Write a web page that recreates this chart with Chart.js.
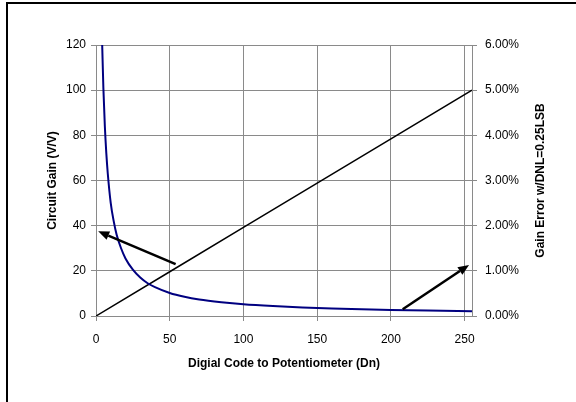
<!DOCTYPE html>
<html>
<head>
<meta charset="utf-8">
<script src="https://cdn.jsdelivr.net/npm/chart.js@4"></script>
<style>
  html, body { margin: 0; padding: 0; background: #fff; overflow: hidden; }
  .wrap { position: relative; width: 576px; height: 402px; }
  .frame {
    position: absolute; left: 6px; top: 2px; width: 600px; height: 420px;
    border-left: 2px solid #000; border-top: 2px solid #000; pointer-events: none;
  }
  canvas { position: absolute; left: 0; top: 0; }
</style>
</head>
<body>
<div class="wrap">
  <canvas id="chart" width="576" height="402"></canvas>
  <div class="frame"></div>
</div>
<script>
// Circuit gain vs. digital code (left axis)
const gainCodes  = [4.2, 5, 6, 7, 8, 10, 12, 14, 17, 20, 25, 30, 35, 40, 50, 60, 70, 85, 100, 120, 140, 160, 180, 200, 225, 255];
const gainValues = [120, 101, 84, 72, 63, 50, 42, 36, 30, 25.5, 20.5, 17, 14.5, 12.8, 10.2, 8.5, 7.3, 6.1, 5.2, 4.4, 3.8, 3.3, 3.0, 2.7, 2.4, 2.15];

// Gain error (right axis, percent)
const errorCodes  = [0, 50, 100, 150, 200, 255];
const errorValues = [0, 0.98, 1.96, 2.94, 3.92, 5.0];

// Annotation arrows: [tailCode, tailGain, headCode, headGain]
const arrows = [
  [54, 23, 1.5, 37.5],
  [208, 3, 253, 22.6],
];

const xTicks = [0, 50, 100, 150, 200, 250];

const font = "'Liberation Sans', Arial, sans-serif";
const grid = '#8a8a8a';

Chart.defaults.font.family = font;
Chart.defaults.color = '#000';

const arrowPlugin = {
  id: 'arrows',
  afterDatasetsDraw(chart) {
    const { ctx, scales: { x, y } } = chart;
    ctx.save();
    ctx.strokeStyle = '#000';
    ctx.fillStyle = '#000';
    ctx.lineWidth = 2.5;
    arrows.forEach(([x0, y0, x1, y1]) => {
      const ax = x.getPixelForValue(x0), ay = y.getPixelForValue(y0);
      const bx = x.getPixelForValue(x1), by = y.getPixelForValue(y1);
      const ang = Math.atan2(by - ay, bx - ax);
      const len = 11, half = 4.5;
      const cx = bx - len * Math.cos(ang), cy = by - len * Math.sin(ang);
      ctx.beginPath();
      ctx.moveTo(ax, ay);
      ctx.lineTo(cx, cy);
      ctx.stroke();
      ctx.beginPath();
      ctx.moveTo(bx, by);
      ctx.lineTo(cx + half * Math.sin(ang), cy - half * Math.cos(ang));
      ctx.lineTo(cx - half * Math.sin(ang), cy + half * Math.cos(ang));
      ctx.closePath();
      ctx.fill();
    });
    ctx.restore();
  },
};

// right axis title reads bottom-to-top in the reference
const rightTitle = {
  id: 'rightTitle',
  afterDraw(chart) {
    const { ctx, chartArea } = chart;
    ctx.save();
    ctx.translate(541, (chartArea.top + chartArea.bottom) / 2);
    ctx.rotate(-Math.PI / 2);
    ctx.font = `bold 12px ${font}`;
    ctx.fillStyle = '#000';
    ctx.textAlign = 'center';
    ctx.textBaseline = 'middle';
    ctx.fillText('Gain Error w/DNL=0.25LSB', 0, 0);
    ctx.restore();
  },
};

new Chart(document.getElementById('chart'), {
  type: 'scatter',
  data: {
    datasets: [
      {
        label: 'Circuit Gain',
        data: gainCodes.map((c, i) => ({ x: c, y: gainValues[i] })),
        yAxisID: 'y',
        showLine: true,
        borderColor: '#000080',
        borderWidth: 2,
        pointRadius: 0,
        cubicInterpolationMode: 'monotone',
      },
      {
        label: 'Gain Error',
        data: errorCodes.map((c, i) => ({ x: c, y: errorValues[i] })),
        yAxisID: 'y2',
        showLine: true,
        borderColor: '#000',
        borderWidth: 1.5,
        pointRadius: 0,
      },
    ],
  },
  options: {
    responsive: false,
    animation: false,
    layout: { padding: { left: 38, right: 21, top: 45, bottom: 0 } },
    plugins: { legend: { display: false }, tooltip: { enabled: false } },
    scales: {
      x: {
        type: 'linear',
        min: 0,
        max: 255,
        afterFit: (s) => { s.height = 86; },
        afterBuildTicks: (s) => { s.ticks = xTicks.map((v) => ({ value: v })); },
        grid: { color: grid, tickLength: 5 },
        border: { color: grid },
        ticks: { font: { size: 12 }, padding: 11, maxRotation: 0 },
        title: {
          display: true,
          text: 'Digial Code to Potentiometer (Dn)',
          font: { size: 12, weight: 'bold' },
          padding: { top: 0, bottom: 31 },
        },
      },
      y: {
        position: 'left',
        min: 0,
        max: 120,
        afterFit: (s) => { s.width = 58; },
        ticks: { stepSize: 20, font: { size: 12 }, padding: 5 },
        grid: { color: grid, tickLength: 5 },
        border: { color: grid },
        title: {
          display: true,
          text: 'Circuit Gain (V/V)',
          font: { size: 12, weight: 'bold' },
          padding: { top: 7, bottom: 0 },
        },
      },
      y2: {
        position: 'right',
        min: 0,
        max: 6,
        afterFit: (s) => { s.width = 83; },
        ticks: {
          stepSize: 1,
          font: { size: 12 },
          padding: 8,
          callback: (v) => v.toFixed(2) + '%',
        },
        grid: { drawOnChartArea: false, color: grid, tickLength: 5 },
        border: { color: grid },
      },
    },
  },
  plugins: [arrowPlugin, rightTitle],
});
</script>
</body>
</html>
